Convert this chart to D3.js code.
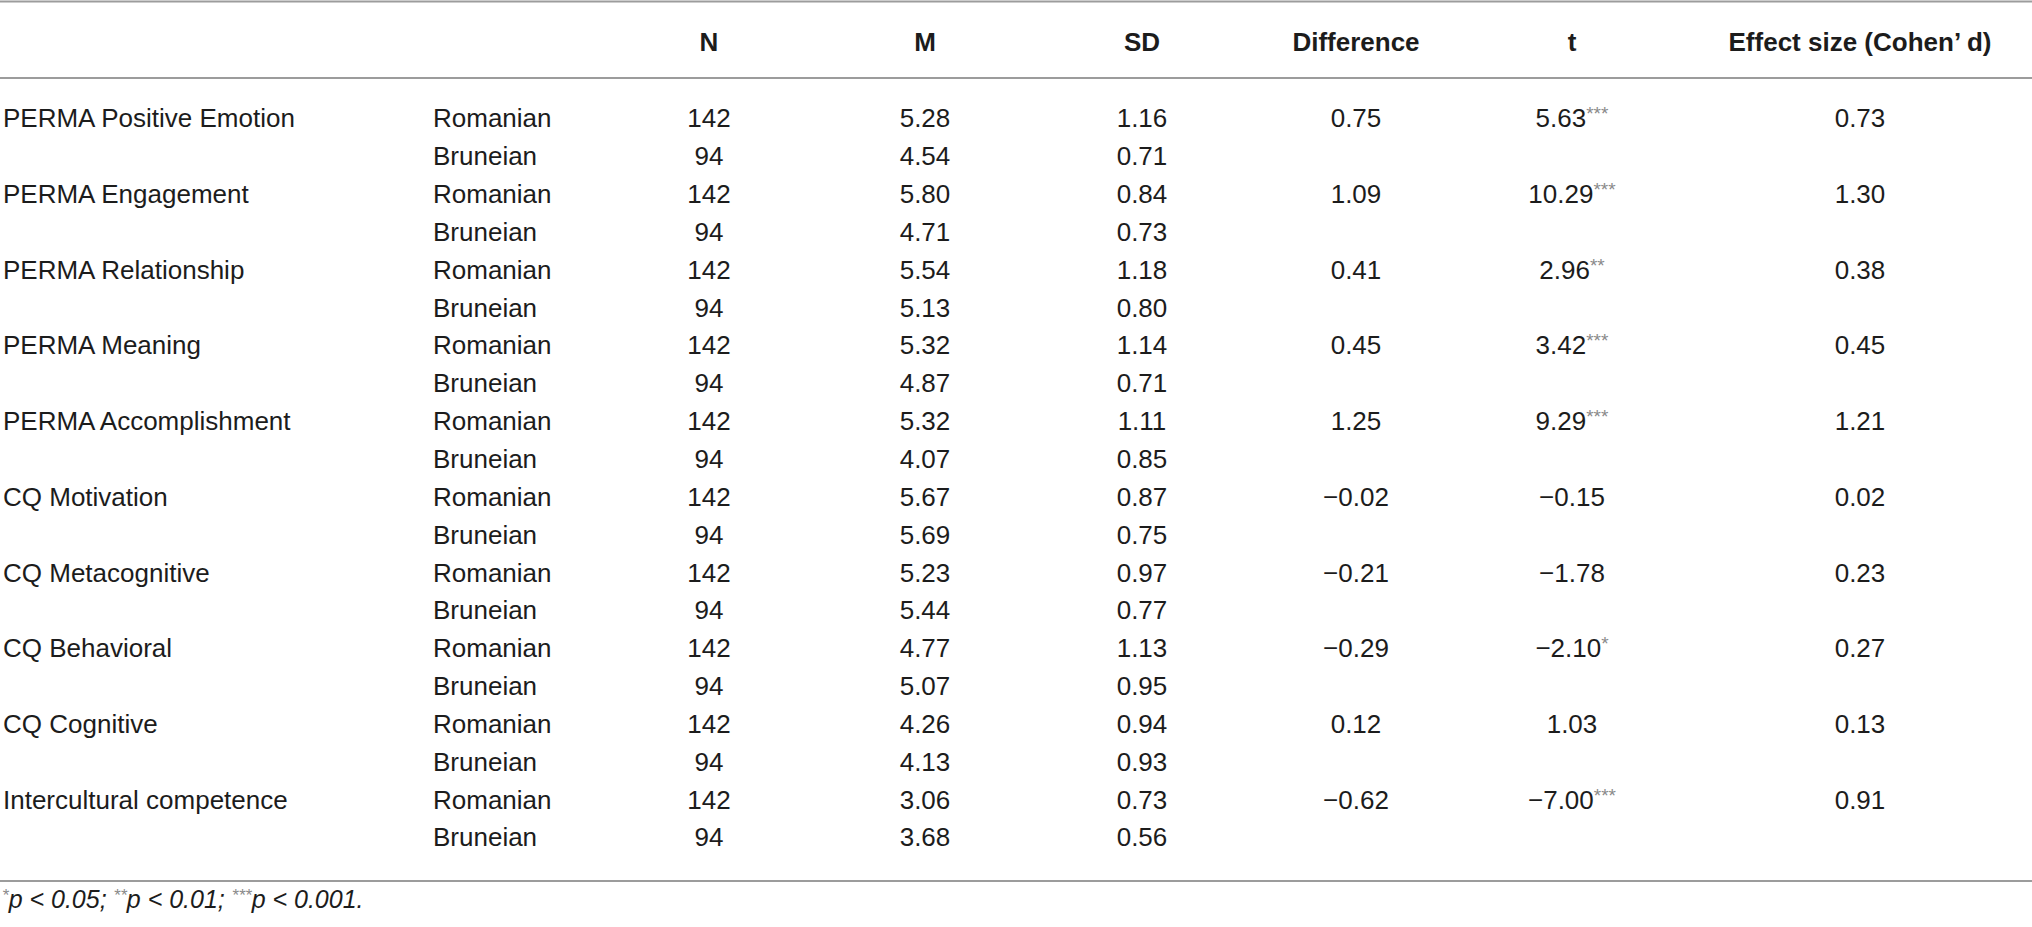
<!DOCTYPE html>
<html>
<head>
<meta charset="utf-8">
<script src="https://cdn.jsdelivr.net/npm/d3@7"></script>
<style>
  body { margin: 0; background: #fff; }
  text { font-family: "Liberation Sans", Arial, sans-serif; fill: #1c1c1c; }
</style>
</head>
<body>
<div id="table"></div>
<script>
// table values
const measures = ["PERMA Positive Emotion", "PERMA Engagement", "PERMA Relationship", "PERMA Meaning",
  "PERMA Accomplishment", "CQ Motivation", "CQ Metacognitive", "CQ Behavioral", "CQ Cognitive",
  "Intercultural competence"];
const groups = ["Romanian", "Bruneian"];
const nValues = [142, 94];
const meanRomanian = [5.28, 5.80, 5.54, 5.32, 5.32, 5.67, 5.23, 4.77, 4.26, 3.06];
const meanBruneian = [4.54, 4.71, 5.13, 4.87, 4.07, 5.69, 5.44, 5.07, 4.13, 3.68];
const sdRomanian = [1.16, 0.84, 1.18, 1.14, 1.11, 0.87, 0.97, 1.13, 0.94, 0.73];
const sdBruneian = [0.71, 0.73, 0.80, 0.71, 0.85, 0.75, 0.77, 0.95, 0.93, 0.56];
const differences = [0.75, 1.09, 0.41, 0.45, 1.25, -0.02, -0.21, -0.29, 0.12, -0.62];
const tValues = [5.63, 10.29, 2.96, 3.42, 9.29, -0.15, -1.78, -2.10, 1.03, -7.00];
const tStars = ["***", "***", "**", "***", "***", "", "", "*", "", "***"];
const effectSizes = [0.73, 1.30, 0.38, 0.45, 1.21, 0.02, 0.23, 0.27, 0.13, 0.91];
const columns = ["measure", "group", "n", "m", "sd", "diff", "t", "d"];
const headers = ["", "", "N", "M", "SD", "Difference", "t", "Effect size (Cohen\u2019 d)"];

const width = 2032, height = 927;
const fmt = d3.format(".2f");

const svg = d3.select("#table").append("svg")
  .attr("width", width)
  .attr("height", height);

// column positions (left-aligned for the first two, centered for the rest)
const x = d3.scaleOrdinal()
  .domain(columns)
  .range([3, 433, 709, 925, 1142, 1356, 1572, 1860]);

// one line per group row
const y = d3.scaleLinear()
  .domain([0, measures.length * 2 - 1])
  .range([118.3, 837.3]);

// build rows
const rows = [];
measures.forEach((m, i) => {
  groups.forEach((g, j) => {
    rows.push({
      measure: j === 0 ? m : "",
      group: g,
      n: String(nValues[j]),
      m: fmt(j === 0 ? meanRomanian[i] : meanBruneian[i]),
      sd: fmt(j === 0 ? sdRomanian[i] : sdBruneian[i]),
      diff: j === 0 ? fmt(differences[i]) : "",
      t: j === 0 ? fmt(tValues[i]) : "",
      stars: j === 0 ? tStars[i] : "",
      d: j === 0 ? fmt(effectSizes[i]) : ""
    });
  });
});

// rules
const rules = [1.5, 78, 881];
svg.selectAll(".rule")
  .data(rules)
  .enter()
  .append("line")
  .attr("class", "rule")
  .attr("x1", 0)
  .attr("x2", width)
  .attr("y1", (d) => d)
  .attr("y2", (d) => d)
  .attr("stroke", "#9c9c9c")
  .attr("stroke-width", 2);

// header
svg.selectAll(".head")
  .data(columns)
  .enter()
  .append("text")
  .attr("class", "head")
  .attr("x", (c) => x(c))
  .attr("y", 42)
  .attr("dy", "0.35em")
  .attr("text-anchor", (c, i) => i < 2 ? "start" : "middle")
  .attr("font-weight", "bold")
  .attr("font-size", 26)
  .text((c, i) => headers[i]);

// body cells
const rowG = svg.selectAll(".row")
  .data(rows)
  .enter()
  .append("g")
  .attr("class", "row")
  .attr("transform", (d, i) => `translate(0,${y(i)})`);

columns.forEach((c, ci) => {
  const cell = rowG.append("text")
    .attr("x", x(c))
    .attr("dy", "0.35em")
    .attr("text-anchor", ci < 2 ? "start" : "middle")
    .attr("font-size", 26)
    .text((d) => d[c]);
  if (c === "t") {
    // significance stars, small grey superscript
    cell.append("tspan")
      .attr("font-size", 19)
      .attr("dy", -7)
      .style("fill", "#8a8a8a")
      .text((d) => d.stars);
  }
});

// footnote
const note = svg.append("text")
  .attr("x", 2)
  .attr("y", 908)
  .attr("dy", "0.35em")
  .attr("font-size", 25)
  .attr("font-style", "italic");

const noteParts = [["*", "p < 0.05; "], ["**", "p < 0.01; "], ["***", "p < 0.001."]];
noteParts.forEach(([s, txt]) => {
  note.append("tspan").attr("font-size", 17).attr("dy", -7).style("fill", "#8a8a8a").text(s);
  note.append("tspan").attr("dy", 7).text(txt);
});
</script>
</body>
</html>
